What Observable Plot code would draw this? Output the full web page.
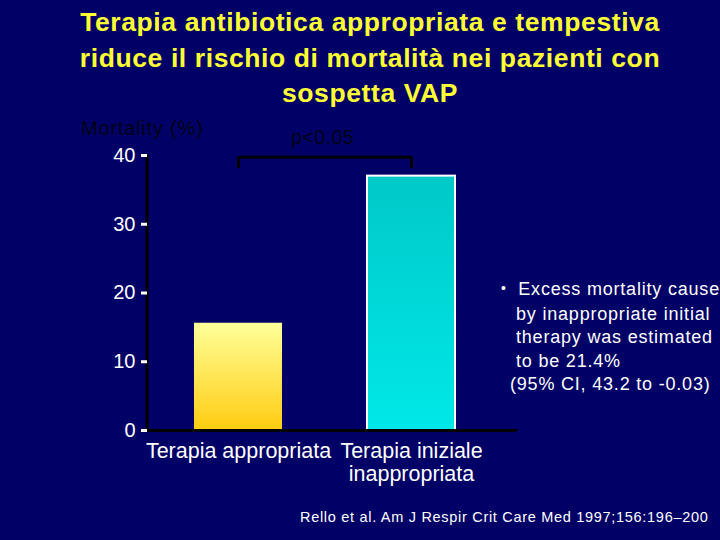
<!DOCTYPE html>
<html>
<head>
<meta charset="utf-8">
<script src="https://cdn.jsdelivr.net/npm/d3@7"></script>
<script src="https://cdn.jsdelivr.net/npm/@observablehq/plot@0.6"></script>
<style>
  html, body { margin: 0; padding: 0; background: #000066; }
  #page { position: relative; width: 720px; height: 540px; overflow: hidden; background: #000066;
          font-family: "Liberation Sans", Arial, sans-serif; }
  #title { height: 110px; box-sizing: border-box; padding-top: 5px; text-align: center;
           color: #FFFF33; font-weight: bold; font-size: 26.5px; letter-spacing: 0.6px; line-height: 35.5px; padding-left: 20px; }
  #chart { position: absolute; left: 0; top: 110px; }
  .note { position: absolute; white-space: nowrap; }
</style>
</head>
<body>
<div id="page">
  <div id="title">Terapia antibiotica appropriata e tempestiva<br>riduce il rischio di mortalità nei pazienti con<br>sospetta VAP</div>
  <div id="chart"></div>
  <div class="note" style="left:81px; top:117px; font-size:20px; letter-spacing:0.8px; color:#000018;">Mortality (%)</div>
  <div class="note" style="left:291px; top:126px; font-size:19.5px; letter-spacing:0.5px; color:#000018;">p&lt;0.05</div>
  <div class="note" style="left:501px; top:278px; font-size:18px; line-height:23.5px; color:#ffffff; letter-spacing:0.8px;">
    <div><span style="font-size:14px; position:relative; top:-2px;">•</span>&nbsp; Excess mortality cause</div>
    <div style="padding-left:15px;">by inappropriate initial</div>
    <div style="padding-left:15px;">therapy was estimated</div>
    <div style="padding-left:15px;">to be 21.4%</div>
    <div style="padding-left:9px;">(95% CI, 43.2 to -0.03)</div>
  </div>
  <div class="note" style="left:300px; top:509px; font-size:14.5px; color:#ffffff; letter-spacing:0.7px;">Rello et al. Am J Respir Crit Care Med 1997;156:196–200</div>
</div>
<script>
// Data
const categories = ["Terapia appropriata", "Terapia iniziale\ninappropriata"];
const mortality = [15.6, 37.0];
const gradientIds = ["gradYellow", "gradCyan"];
const yTicks = [0, 10, 20, 30, 40];
const bracketY = [38.2, 39.75, 39.75, 38.2];
const bracketX = [categories[0], categories[0], categories[1], categories[1]];

const bars = categories.map((c, i) => ({cat: c, value: mortality[i], grad: gradientIds[i]}));
const bracket = bracketX.map((x, i) => ({x, y: bracketY[i]}));

function defsMark() {
  const g = d3.create("svg:g");
  const defs = g.append("defs");
  const gy = defs.append("linearGradient").attr("id", "gradYellow").attr("x1", 0).attr("y1", 0).attr("x2", 0).attr("y2", 1);
  gy.append("stop").attr("offset", "0%").attr("stop-color", "#FFFF99");
  gy.append("stop").attr("offset", "100%").attr("stop-color", "#FFCC11");
  const gc = defs.append("linearGradient").attr("id", "gradCyan").attr("x1", 0).attr("y1", 0).attr("x2", 0).attr("y2", 1);
  gc.append("stop").attr("offset", "0%").attr("stop-color", "#00C8C8");
  gc.append("stop").attr("offset", "100%").attr("stop-color", "#00E8E8");
  return g.node();
}

function leftAxisLine(index, scales, values, dimensions) {
  const x = dimensions.marginLeft;
  return d3.create("svg:line")
    .attr("x1", x).attr("x2", x)
    .attr("y1", scales.y(40)).attr("y2", scales.y(0) + 1.5)
    .attr("stroke", "#000000").attr("stroke-width", 3).node();
}

const chart = Plot.plot({
  width: 720,
  height: 430,
  marginTop: 45,
  marginBottom: 110,
  marginLeft: 147,
  marginRight: 203,
  style: {background: "transparent", color: "#ffffff", fontFamily: "Liberation Sans, Arial, sans-serif"},
  x: {domain: categories, paddingInner: 0.489, paddingOuter: 0.3135, align: 0.43, label: null},
  y: {domain: [0, 40], label: null},
  color: {type: "identity"},
  marks: [
    defsMark,
    Plot.barY(bars.slice(0, 1), {x: "cat", y: "value", fill: "url(#gradYellow)"}),
    Plot.barY(bars.slice(1), {x: "cat", y: "value", fill: "url(#gradCyan)", stroke: "#ffffff", strokeWidth: 2}),
    Plot.line(bracket, {x: "x", y: "y", stroke: "#000000", strokeWidth: 3, strokeLinejoin: "miter", strokeLinecap: "butt"}),
    Plot.ruleY([0], {stroke: "#000000", strokeWidth: 3}),
    leftAxisLine,
    Plot.axisY({ticks: yTicks, tickSize: 6, tickPadding: 6, stroke: "#ffffff", strokeWidth: 3, fill: "#ffffff", fontSize: 20, label: null}),
    Plot.axisX({tickSize: 0, tickPadding: 11, fill: "#ffffff", fontSize: 21.5, lineHeight: 1.08, label: null})
  ]
});
document.getElementById("chart").appendChild(chart);
</script>
</body>
</html>
